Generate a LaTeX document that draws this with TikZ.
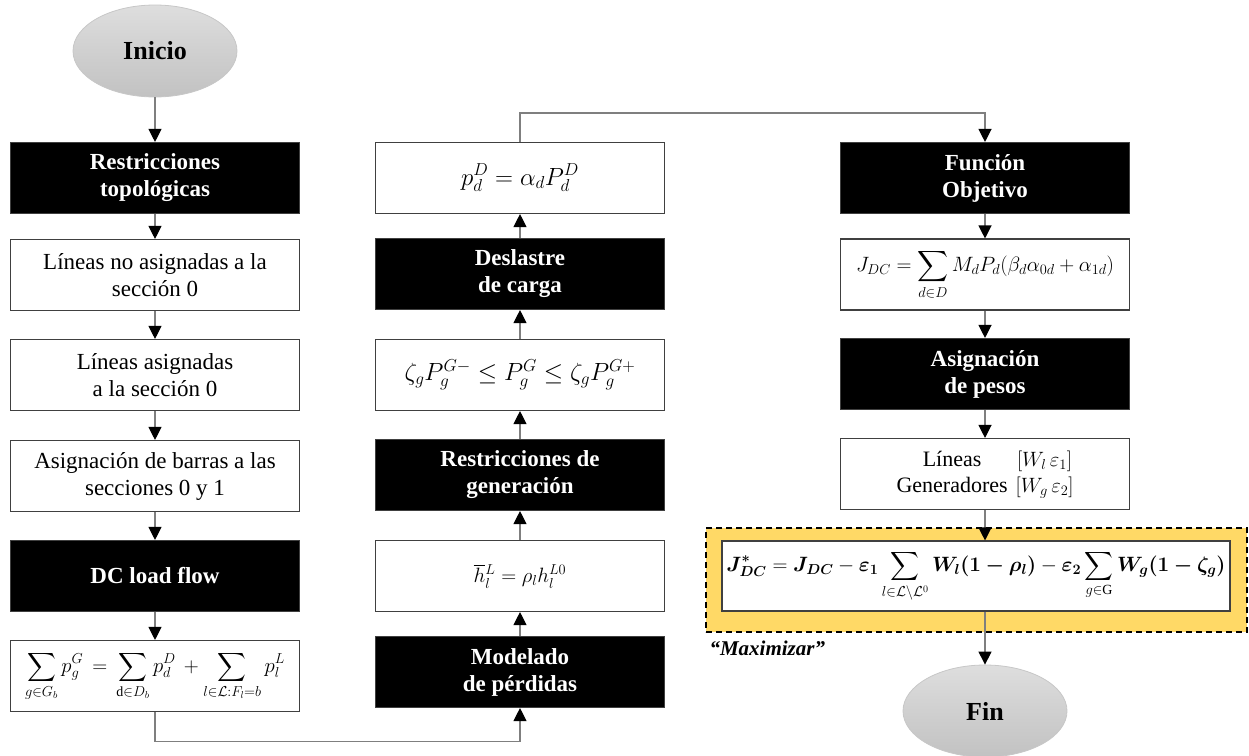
\documentclass[tikz,border=0pt]{standalone}
\usepackage{amsmath,amssymb}
\usepackage{bm}
\usepackage{fontspec}
\setmainfont{Liberation Serif}
\usetikzlibrary{arrows.meta,shapes.geometric}

\definecolor{hilite}{HTML}{FFD966}
\definecolor{edge}{HTML}{404040}
\definecolor{wire}{HTML}{7F7F7F}

% objective function with penalty terms
\newcommand{\objfun}{%
  $\displaystyle \bm{J^{*}_{DC}} = \bm{J_{DC}} - \bm{\varepsilon_1}
  \sum_{l\in\mathcal{L}\setminus\mathcal{L}^0} \bm{W_l(1-\rho_l)}
  - \bm{\varepsilon_2} \sum_{g\in\mathrm{G}} \bm{W_g(1-\zeta_g)}$}

\begin{document}
\begin{tikzpicture}[x=1pt,y=-1pt,
  box/.style={draw=edge, line width=1.1pt, fill=white, minimum width=289pt,
    minimum height=71pt, inner sep=0pt, align=center,
    font=\fontsize{23}{27}\selectfont},
  darkbox/.style={box, fill=black, text=white,
    font=\fontsize{23}{27}\selectfont\bfseries},
  mathbox/.style={box, font=\fontsize{21}{25}\selectfont},
  oval/.style={ellipse, draw=black!22, line width=0.8pt, top color=black!13,
    bottom color=black!24, minimum width=164pt, minimum height=92pt,
    inner sep=0pt, font=\fontsize{26}{30}\selectfont\bfseries},
  link/.style={draw=wire, line width=1.1pt},
  arr/.style={link, -{Triangle[width=13pt,length=13pt,color=black]}},
  hlbox/.style={draw=black, fill=hilite, line width=1.8pt,
    dash pattern=on 6pt off 4pt, inner sep=0pt}
]
\useasboundingbox (0,0) rectangle (1249,755);

% start / end terminals
\node[oval] (ini) at (155,51) {Inicio};
\node[oval] (fin) at (985,711) {Fin};

% left column
\node[darkbox] (l1) at (155,178) {Restricciones\\topológicas};
\node[box] (l2) at (155,275) {Líneas no asignadas a la\\sección 0};
\node[box] (l3) at (155,375) {Líneas asignadas\\a la sección 0};
\node[box] (l4) at (155,476) {Asignación de barras a las\\secciones 0 y 1};
\node[darkbox] (l5) at (155,576) {DC load flow};
\node[mathbox, font=\fontsize{20}{24}\selectfont] (l6) at (155,676)
  {$\displaystyle\sum_{g\in G_b} p_g^G \,=\, \sum_{\mathrm{d}\in D_b} p_d^D \,+ \sum_{l\in\mathcal{L}:F_l=b} p_l^L$};

% middle column (bottom to top)
\node[darkbox] (m6) at (520,672) {Modelado\\de pérdidas};
\node[mathbox, font=\fontsize{20}{24}\selectfont] (m5) at (520,576) {$\overline{h}{}_l^L = \rho_l h_l^{L0}$};
\node[darkbox] (m4) at (520,475) {Restricciones de\\generación};
\node[mathbox, font=\fontsize{23}{27}\selectfont] (m3) at (520,375) {$\zeta_g P_g^{G-} \le P_g^G \le \zeta_g P_g^{G+}$};
\node[darkbox] (m2) at (520,274) {Deslastre\\de carga};
\node[mathbox, font=\fontsize{24}{28}\selectfont] (m1) at (520,178) {$p_d^D = \alpha_d P_d^D$};

% right column
\node[darkbox] (r1) at (985,178) {Función\\Objetivo};
\node[mathbox, font=\fontsize{21.5}{25}\selectfont] (r2) at (985,274.5)
  {$\displaystyle J_{DC} = \sum_{d\in D} M_d P_d(\beta_d\alpha_{0d} + \alpha_{1d})$};
\node[darkbox] (r3) at (985,374) {Asignación\\de pesos};
\node[box, font=\fontsize{22}{26}\selectfont] (r4) at (985,474)
  {\begin{tabular}{@{}c@{\hspace{8pt}}c@{}}
     Líneas & $[W_l\,\varepsilon_1]$\\
     Generadores & $[W_g\,\varepsilon_2]$
   \end{tabular}};

% highlighted objective
\node[hlbox, minimum width=541pt, minimum height=104pt] (hl) at (976.5,580) {};
\node[mathbox, font=\fontsize{20}{24}\selectfont, minimum width=508pt, minimum height=70pt] (r5) at (976,576) {\objfun};
\node[font=\fontsize{21}{24}\selectfont\bfseries\itshape, anchor=west] (mx) at (706,648) {“Maximizar”};

% connectors
\draw[arr] (ini) -- (l1);
\draw[arr] (l1) -- (l2);
\draw[arr] (l2) -- (l3);
\draw[arr] (l3) -- (l4);
\draw[arr] (l4) -- (l5);
\draw[arr] (l5) -- (l6);
\draw[arr] (l6.south) -- ++(0,29) -| (m6.south);
\draw[arr] (m6) -- (m5);
\draw[arr] (m5) -- (m4);
\draw[arr] (m4) -- (m3);
\draw[arr] (m3) -- (m2);
\draw[arr] (m2) -- (m1);
\draw[arr] (m1.north) -- ++(0,-29) -| (r1.north);
\draw[arr] (r1) -- (r2);
\draw[arr] (r2) -- (r3);
\draw[arr] (r3) -- (r4);
\draw[arr] (r4.south) -- (r4.south |- r5.north);
\draw[arr] (fin.north |- r5.south) -- (fin.north);
\end{tikzpicture}
\end{document}
